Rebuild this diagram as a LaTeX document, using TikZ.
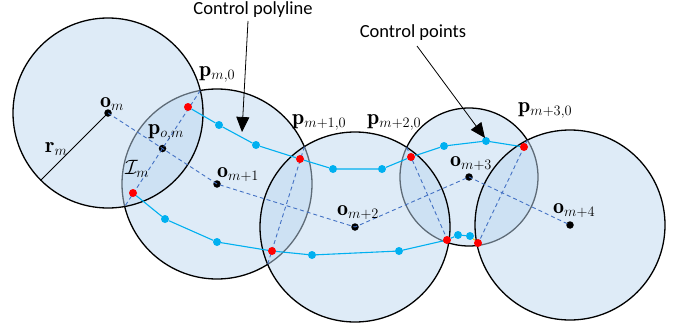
\documentclass[tikz,border=0pt]{standalone}
\usepackage{fontspec}
\newfontfamily\calib{Carlito}
\usetikzlibrary{arrows.meta}
\definecolor{cfill}{RGB}{189,215,239}
\definecolor{dashblue}{RGB}{68,114,196}
\definecolor{cpblue}{RGB}{0,176,240}
\definecolor{cpred}{RGB}{255,0,0}
\definecolor{cporange}{RGB}{255,192,0}
\begin{document}
\begin{tikzpicture}[x=1pt,y=-1pt,
  ball/.style={fill=cfill, fill opacity=0.5, draw=black, draw opacity=1, line width=1.3pt},
  dline/.style={draw=dashblue, line width=0.9pt, dash pattern=on 4pt off 3pt},
  cpline/.style={draw=cpblue, line width=1.1pt},
  blackdot/.style={circle, fill=black, inner sep=0pt, minimum size=7.5pt},
  reddot/.style={circle, fill=cpred, inner sep=0pt, minimum size=8pt},
  bluedot/.style={circle, fill=cpblue, inner sep=0pt, minimum size=8pt},
  lbl/.style={anchor=base west, inner sep=0pt, font=\fontsize{22}{24}\selectfont},
  callout/.style={inner sep=0pt, font=\calib\fontsize{18.5}{20}\selectfont},
  pointer/.style={line width=0.8pt, -{Triangle[width=13pt,length=15pt]}}
]
\useasboundingbox (0,0) rectangle (682,329);

% centres
\coordinate (c1) at (108,113);
\coordinate (c2) at (217,184);
\coordinate (c3) at (355,227);
\coordinate (c4) at (469,177);
\coordinate (c5) at (570,225);

% balls (order gives grey borders inside later fills)
\path[ball] (c2) circle[radius=95pt];
\path[ball] (c4) circle[radius=69pt];
\path[ball] (c1) circle[radius=95pt];
\path[ball] (c3) circle[radius=95pt];
\path[ball] (c5) circle[radius=95pt];

% chord end points
\coordinate (i12a) at (200.3,90.5);
\coordinate (i12b) at (124.7,206.5);
\coordinate (i23a) at (304.4,146.6);
\coordinate (i23b) at (267.6,264.4);
\coordinate (i34a) at (406.7,147.3);
\coordinate (i34b) at (448.7,242.9);
\coordinate (i45a) at (527.3,140.1);
\coordinate (i45b) at (477.1,245.5);
\coordinate (rend) at (40.8,180.2);

% dots (centres)
\node[blackdot] (om)  at (c1) {};
\node[blackdot] (om1) at (c2) {};
\node[blackdot] (om2) at (c3) {};
\node[blackdot] (om3) at (c4) {};
\node[blackdot] (om4) at (c5) {};
\node[blackdot] (pom) at (162.5,148.5) {};

% dashed lines
\draw[dline] (om.center) -- (pom.center) -- (om1.center) -- (om2.center) -- (om3.center) -- (om4.center);
\draw[dline] (i12a) -- (i12b);
\draw[dline] (i23a) -- (i23b);
\draw[dline] (i34a) -- (i34b);
\draw[dline] (i45a) -- (i45b);

% radius
\draw[line width=1pt] (om.center) -- (rend);

% control points
\node[reddot] (u0) at (188,107) {};
\node[bluedot] (u1) at (219,125) {};
\node[bluedot] (u2) at (256,145) {};
\node[reddot] (u3) at (300,159) {};
\node[bluedot] (u4) at (333,169) {};
\node[bluedot] (u5) at (382,169) {};
\node[reddot] (u6) at (411,157) {};
\node[bluedot] (u7) at (444,146) {};
\node[bluedot] (u8) at (486,141) {};
\node[reddot] (u9) at (524,147) {};

\node[reddot] (l0) at (133,193) {};
\node[bluedot] (l1) at (165,219) {};
\node[bluedot] (l2) at (217,242) {};
\node[reddot] (l3) at (272,251) {};
\node[bluedot] (l4) at (312,255) {};
\node[bluedot] (l5) at (399,251) {};
\node[reddot] (l6) at (447,240) {};
\node[bluedot] (l7) at (458,235) {};
\node[bluedot] (l8) at (470,236) {};
\node[reddot] (l9) at (478,243) {};

\draw[cpline] (u0) -- (u1) -- (u2) -- (u3) -- (u4) -- (u5) -- (u6) -- (u7) -- (u8) -- (u9);
\draw[cpline] (l0) -- (l1) -- (l2) -- (l3) -- (l4) -- (l5) -- (l6) -- (l7) -- (l8);
\draw[draw=cporange, line width=1pt] (l8) -- (l9);

% labels
\node[lbl] (lom)  at (100,107) {$\mathbf{o}_m$};
\node[lbl] (lrm)  at (45,152)  {$\mathbf{r}_m$};
\node[lbl] (lpom) at (148,134) {$\mathbf{p}_{o,m}$};
\node[lbl] (lim)  at (125,174) {$\mathcal{I}_m$};
\node[lbl] (lom1) at (217,177) {$\mathbf{o}_{m+1}$};
\node[lbl] (lom2) at (337,215) {$\mathbf{o}_{m+2}$};
\node[lbl] (lom3) at (450,166) {$\mathbf{o}_{m+3}$};
\node[lbl] (lom4) at (553,213) {$\mathbf{o}_{m+4}$};
\node[lbl] (lp0)  at (199,76)  {$\mathbf{p}_{m,0}$};
\node[lbl] (lp1)  at (292,124) {$\mathbf{p}_{m+1,0}$};
\node[lbl] (lp2)  at (367,124) {$\mathbf{p}_{m+2,0}$};
\node[lbl] (lp3)  at (518,112) {$\mathbf{p}_{m+3,0}$};

% callouts
\node[callout] (tpoly) at (253,10) {Control polyline};
\node[callout] (tpts)  at (413,33) {Control points};
\coordinate (a1s) at (248,21);
\coordinate (a1e) at (242,132);
\coordinate (a2s) at (417,46);
\coordinate (a2e) at (485,138);
\draw[pointer] (a1s) -- (a1e);
\draw[pointer] (a2s) -- (a2e);
\end{tikzpicture}
\end{document}
